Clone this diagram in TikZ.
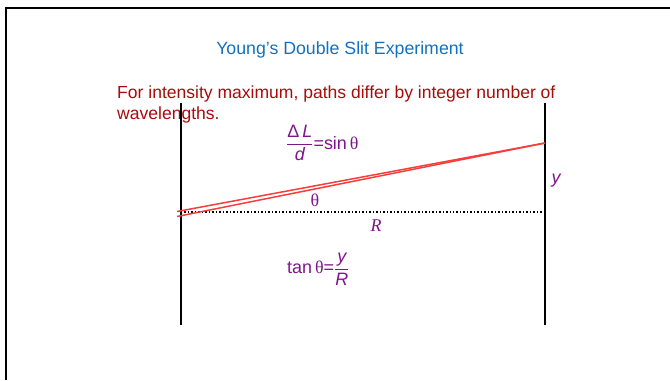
\documentclass[tikz,border=0pt]{standalone}
\usepackage{amsmath}
\usepackage{fontspec}
\setmainfont{Liberation Sans}
\newfontfamily\serf{Liberation Serif}
\usetikzlibrary{calc,positioning}
\definecolor{titleblue}{RGB}{20,112,190}
\definecolor{noteRed}{RGB}{170,10,10}
\definecolor{eqPurple}{RGB}{128,20,140}
\definecolor{rayRed}{RGB}{250,60,60}
\tikzset{
  screen/.style={line width=1.8pt,black},
  ray/.style={line width=1.5pt,rayRed},
  eq/.style={text=eqPurple,inner sep=0pt,font=\fontsize{18}{21}\selectfont},
}
\newcommand{\thet}{{\serf θ}}
\begin{document}
\begin{tikzpicture}[x=1bp,y=-1bp]
  \useasboundingbox (0,0) rectangle (670,380);
  % frame
  \coordinate (F0) at (6,380);
  \coordinate (F1) at (6,8);
  \coordinate (F2) at (670,8);
  \draw[line width=1.8pt] (F0)--(F1)--(F2);
  % texts at the top
  \node[text=titleblue,font=\fontsize{17.8}{21}\selectfont] (title) at (340,50) {Young's Double Slit Experiment};
  \node[text=noteRed,font=\fontsize{17.6}{21}\selectfont,anchor=north west,inner sep=0pt,align=left] (note) at (117,86)
    {For intensity maximum, paths differ by integer number of\\wavelengths.};
  % screens
  \coordinate (L1) at (181,103);
  \coordinate (L2) at (181,325);
  \coordinate (R1) at (545,103);
  \coordinate (R2) at (545,325);
  \draw[screen] (L1)--(L2);
  \draw[screen] (R1)--(R2);
  % axis and rays
  \coordinate (O) at (181,212);
  \coordinate (OR) at (545,212);
  \coordinate (S1) at (177,211.5);
  \coordinate (S2) at (177,216.5);
  \coordinate (P) at (545,143);
  \draw[line width=1.5pt,dotted] (O)--(OR);
  \draw[ray] (S1)--(P);
  \draw[ray] (S2)--(P);
  % labels
  \node[eq] (theta) at (315,200) {\thet};
  \node[eq] (Rlab) at (376,226) {\serf\itshape R};
  \node[eq] (ylab) at (556,181) {\itshape y};
  \node[eq,anchor=west] (sineq) at (286,143) {$\dfrac{\text{Δ\,\itshape L}}{\text{\itshape d}}$=sin\,\thet};
  \node[eq,anchor=west] (taneq) at (287,269) {tan\,\thet=$\dfrac{\text{\itshape y}}{\text{\itshape R}}$};
\end{tikzpicture}
\end{document}
